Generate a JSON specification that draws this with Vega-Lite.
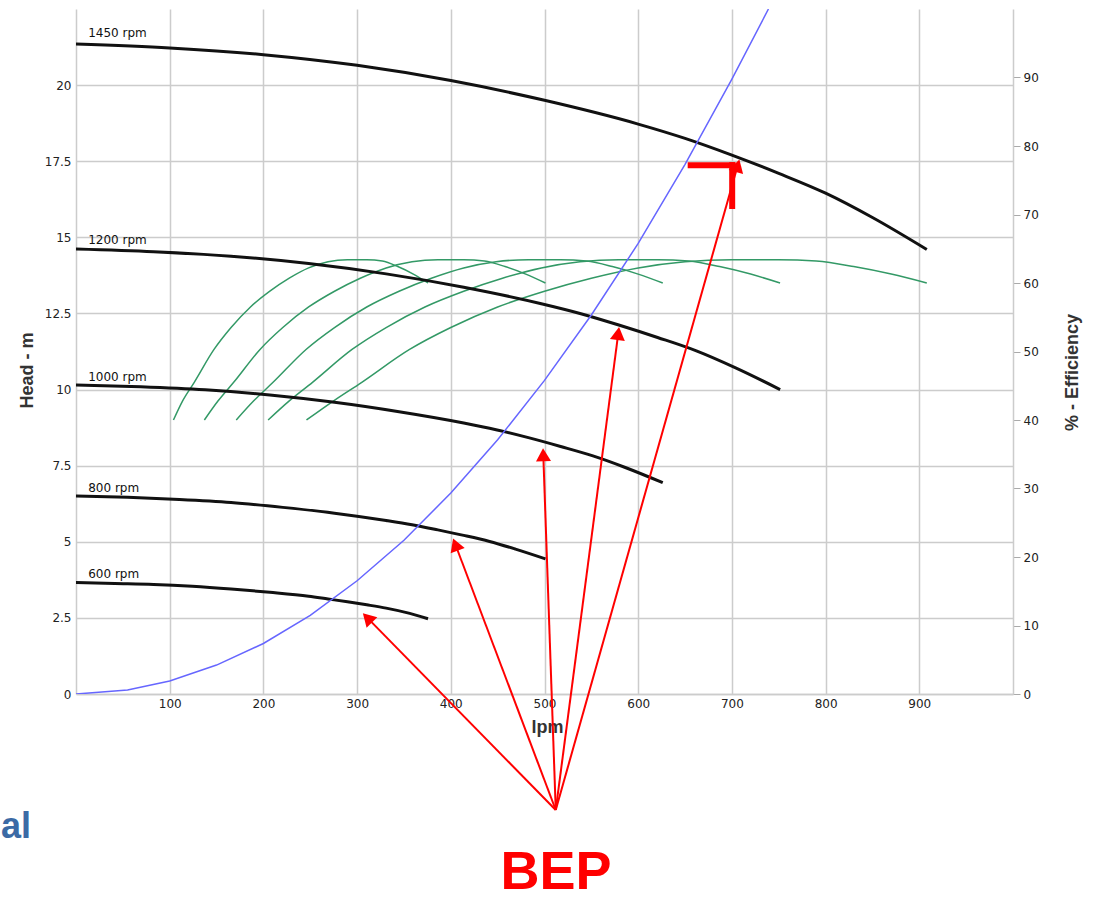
{
  "$schema": "https://vega.github.io/schema/vega-lite/v6.json",
  "width": 937,
  "height": 685,
  "autosize": {"type": "none"},
  "padding": {"left": 76, "top": 9, "right": 81, "bottom": 204},
  "background": "white",
  "config": {
    "view": {"stroke": null},
    "axis": {
      "labelFont": "DejaVu Sans",
      "labelFontSize": 12,
      "labelColor": "#222222",
      "titleFont": "Liberation Sans",
      "titleFontSize": 18,
      "titleFontWeight": "bold",
      "titleColor": "#333333",
      "gridColor": "#cccccc",
      "gridWidth": 1.5,
      "domainColor": "#cccccc",
      "domainWidth": 1.5,
      "tickColor": "#aaaaaa"
    }
  },
  "encoding": {
    "x": {
      "field": "q",
      "type": "quantitative",
      "scale": {"domain": [0, 1000], "nice": false, "zero": false},
      "axis": {
        "values": [100, 200, 300, 400, 500, 600, 700, 800, 900],
        "grid": true,
        "ticks": false,
        "domain": true,
        "labelPadding": 4,
        "title": "lpm",
        "titleX": 471,
        "titleY": 33,
        "titleBaseline": "middle",
        "titleAlign": "center"
      }
    }
  },
  "layer": [
    {
      "data": {"values": [
        {"n": 1450, "q": 246, "e": 40}, {"n": 1450, "q": 275, "e": 42.8}, {"n": 1450, "q": 305, "e": 45.5}, {"n": 1450, "q": 356, "e": 50.3}, {"n": 1450, "q": 400, "e": 53.5}, {"n": 1450, "q": 450, "e": 56.5}, {"n": 1450, "q": 500, "e": 58.8}, {"n": 1450, "q": 550, "e": 60.7}, {"n": 1450, "q": 600, "e": 62.2}, {"n": 1450, "q": 650, "e": 63.1}, {"n": 1450, "q": 700, "e": 63.4}, {"n": 1450, "q": 750, "e": 63.4}, {"n": 1450, "q": 790, "e": 63.2}, {"n": 1450, "q": 830, "e": 62.4}, {"n": 1450, "q": 870, "e": 61.3}, {"n": 1450, "q": 908, "e": 60.0},
        {"n": 1200, "q": 205, "e": 40}, {"n": 1200, "q": 227.6, "e": 42.8}, {"n": 1200, "q": 252.4, "e": 45.5}, {"n": 1200, "q": 294.6, "e": 50.3}, {"n": 1200, "q": 331, "e": 53.5}, {"n": 1200, "q": 372.4, "e": 56.5}, {"n": 1200, "q": 413.8, "e": 58.8}, {"n": 1200, "q": 455.2, "e": 60.7}, {"n": 1200, "q": 496.6, "e": 62.2}, {"n": 1200, "q": 537.9, "e": 63.1}, {"n": 1200, "q": 579.3, "e": 63.4}, {"n": 1200, "q": 620.7, "e": 63.4}, {"n": 1200, "q": 653.8, "e": 63.2}, {"n": 1200, "q": 686.9, "e": 62.4}, {"n": 1200, "q": 720, "e": 61.3}, {"n": 1200, "q": 751.4, "e": 60.0},
        {"n": 1000, "q": 171, "e": 40}, {"n": 1000, "q": 189.7, "e": 42.8}, {"n": 1000, "q": 210.3, "e": 45.5}, {"n": 1000, "q": 245.5, "e": 50.3}, {"n": 1000, "q": 275.9, "e": 53.5}, {"n": 1000, "q": 310.3, "e": 56.5}, {"n": 1000, "q": 344.8, "e": 58.8}, {"n": 1000, "q": 379.3, "e": 60.7}, {"n": 1000, "q": 413.8, "e": 62.2}, {"n": 1000, "q": 448.3, "e": 63.1}, {"n": 1000, "q": 482.8, "e": 63.4}, {"n": 1000, "q": 517.2, "e": 63.4}, {"n": 1000, "q": 544.8, "e": 63.2}, {"n": 1000, "q": 572.4, "e": 62.4}, {"n": 1000, "q": 600, "e": 61.3}, {"n": 1000, "q": 626.2, "e": 60.0},
        {"n": 800, "q": 137, "e": 40}, {"n": 800, "q": 151.7, "e": 42.8}, {"n": 800, "q": 168.3, "e": 45.5}, {"n": 800, "q": 196.4, "e": 50.3}, {"n": 800, "q": 220.7, "e": 53.5}, {"n": 800, "q": 248.3, "e": 56.5}, {"n": 800, "q": 275.9, "e": 58.8}, {"n": 800, "q": 303.4, "e": 60.7}, {"n": 800, "q": 331, "e": 62.2}, {"n": 800, "q": 358.6, "e": 63.1}, {"n": 800, "q": 386.2, "e": 63.4}, {"n": 800, "q": 413.8, "e": 63.4}, {"n": 800, "q": 435.9, "e": 63.2}, {"n": 800, "q": 457.9, "e": 62.4}, {"n": 800, "q": 480, "e": 61.3}, {"n": 800, "q": 501, "e": 60.0},
        {"n": 600, "q": 104, "e": 40}, {"n": 600, "q": 113.8, "e": 42.8}, {"n": 600, "q": 126.2, "e": 45.5}, {"n": 600, "q": 147.3, "e": 50.3}, {"n": 600, "q": 165.5, "e": 53.5}, {"n": 600, "q": 186.2, "e": 56.5}, {"n": 600, "q": 206.9, "e": 58.8}, {"n": 600, "q": 227.6, "e": 60.7}, {"n": 600, "q": 248.3, "e": 62.2}, {"n": 600, "q": 269, "e": 63.1}, {"n": 600, "q": 289.7, "e": 63.4}, {"n": 600, "q": 310.3, "e": 63.4}, {"n": 600, "q": 326.9, "e": 63.2}, {"n": 600, "q": 343.4, "e": 62.4}, {"n": 600, "q": 360, "e": 61.3}, {"n": 600, "q": 375.7, "e": 60.0}
      ]},
      "mark": {"type": "line", "color": "#339966", "strokeWidth": 1.5, "interpolate": "monotone"},
      "encoding": {
        "detail": {"field": "n", "type": "nominal"},
        "y": {
          "field": "e",
          "type": "quantitative",
          "scale": {"domain": [0, 100], "nice": false, "zero": false},
          "axis": {
            "orient": "right",
            "values": [0, 10, 20, 30, 40, 50, 60, 70, 80, 90],
            "format": "d",
            "grid": false,
            "ticks": true,
            "tickSize": 7,
            "domain": true,
            "labelPadding": 3,
            "title": "% - Efficiency",
            "titleAngle": 270,
            "titleX": 59,
            "titleY": 363,
            "titleBaseline": "middle",
            "titleAlign": "center"
          }
        }
      }
    },
    {
      "encoding": {
        "y": {
          "field": "h",
          "type": "quantitative",
          "scale": {"domain": [0, 22.5], "nice": false, "zero": false},
          "axis": {
            "orient": "left",
            "values": [0, 2.5, 5, 7.5, 10, 12.5, 15, 17.5, 20],
            "format": ".3~g",
            "grid": true,
            "ticks": false,
            "domain": true,
            "labelPadding": 5,
            "title": "Head - m",
            "titleAngle": 270,
            "titleX": -49,
            "titleY": 361,
            "titleBaseline": "middle",
            "titleAlign": "center"
          }
        }
      },
      "layer": [
        {
          "data": {"values": [
            {"rpm": 1450, "q": 0, "h": 21.35}, {"rpm": 1450, "q": 100, "h": 21.22}, {"rpm": 1450, "q": 200, "h": 21.0}, {"rpm": 1450, "q": 300, "h": 20.65}, {"rpm": 1450, "q": 400, "h": 20.15}, {"rpm": 1450, "q": 500, "h": 19.5}, {"rpm": 1450, "q": 600, "h": 18.72}, {"rpm": 1450, "q": 650, "h": 18.25}, {"rpm": 1450, "q": 700, "h": 17.7}, {"rpm": 1450, "q": 750, "h": 17.1}, {"rpm": 1450, "q": 800, "h": 16.45}, {"rpm": 1450, "q": 850, "h": 15.65}, {"rpm": 1450, "q": 908, "h": 14.6},
            {"rpm": 1200, "q": 0, "h": 14.62}, {"rpm": 1200, "q": 82.8, "h": 14.53}, {"rpm": 1200, "q": 165.5, "h": 14.38}, {"rpm": 1200, "q": 248.3, "h": 14.14}, {"rpm": 1200, "q": 331, "h": 13.8}, {"rpm": 1200, "q": 413.8, "h": 13.36}, {"rpm": 1200, "q": 496.6, "h": 12.82}, {"rpm": 1200, "q": 537.9, "h": 12.5}, {"rpm": 1200, "q": 579.3, "h": 12.12}, {"rpm": 1200, "q": 620.7, "h": 11.71}, {"rpm": 1200, "q": 662.1, "h": 11.27}, {"rpm": 1200, "q": 703.4, "h": 10.72}, {"rpm": 1200, "q": 751.5, "h": 10.0},
            {"rpm": 1000, "q": 0, "h": 10.15}, {"rpm": 1000, "q": 69, "h": 10.09}, {"rpm": 1000, "q": 137.9, "h": 9.99}, {"rpm": 1000, "q": 206.9, "h": 9.82}, {"rpm": 1000, "q": 275.9, "h": 9.58}, {"rpm": 1000, "q": 344.8, "h": 9.27}, {"rpm": 1000, "q": 413.8, "h": 8.9}, {"rpm": 1000, "q": 448.3, "h": 8.68}, {"rpm": 1000, "q": 482.8, "h": 8.42}, {"rpm": 1000, "q": 517.2, "h": 8.13}, {"rpm": 1000, "q": 551.7, "h": 7.82}, {"rpm": 1000, "q": 586.2, "h": 7.44}, {"rpm": 1000, "q": 626.2, "h": 6.94},
            {"rpm": 800, "q": 0, "h": 6.5}, {"rpm": 800, "q": 55.2, "h": 6.46}, {"rpm": 800, "q": 110.3, "h": 6.39}, {"rpm": 800, "q": 165.5, "h": 6.29}, {"rpm": 800, "q": 220.7, "h": 6.13}, {"rpm": 800, "q": 275.9, "h": 5.94}, {"rpm": 800, "q": 331, "h": 5.7}, {"rpm": 800, "q": 358.6, "h": 5.56}, {"rpm": 800, "q": 386.2, "h": 5.39}, {"rpm": 800, "q": 413.8, "h": 5.21}, {"rpm": 800, "q": 441.4, "h": 5.01}, {"rpm": 800, "q": 469, "h": 4.76}, {"rpm": 800, "q": 501, "h": 4.44},
            {"rpm": 600, "q": 0, "h": 3.66}, {"rpm": 600, "q": 41.4, "h": 3.63}, {"rpm": 600, "q": 82.8, "h": 3.6}, {"rpm": 600, "q": 124.1, "h": 3.54}, {"rpm": 600, "q": 165.5, "h": 3.45}, {"rpm": 600, "q": 206.9, "h": 3.34}, {"rpm": 600, "q": 248.3, "h": 3.21}, {"rpm": 600, "q": 269, "h": 3.12}, {"rpm": 600, "q": 289.7, "h": 3.03}, {"rpm": 600, "q": 310.3, "h": 2.93}, {"rpm": 600, "q": 331, "h": 2.82}, {"rpm": 600, "q": 351.7, "h": 2.68}, {"rpm": 600, "q": 375.7, "h": 2.47}
          ]},
          "mark": {"type": "line", "color": "#111111", "strokeWidth": 3, "interpolate": "monotone"},
          "encoding": {"detail": {"field": "rpm", "type": "nominal"}}
        },
        {
          "data": {"values": [
            {"q": 0, "h": 0}, {"q": 55, "h": 0.13}, {"q": 100, "h": 0.43}, {"q": 150, "h": 0.95}, {"q": 200, "h": 1.66}, {"q": 250, "h": 2.58}, {"q": 300, "h": 3.72}, {"q": 350, "h": 5.05}, {"q": 400, "h": 6.6}, {"q": 450, "h": 8.35}, {"q": 500, "h": 10.3}, {"q": 550, "h": 12.45}, {"q": 600, "h": 14.8}, {"q": 650, "h": 17.4}, {"q": 700, "h": 20.2}, {"q": 739, "h": 22.5}
          ]},
          "mark": {"type": "line", "color": "#6666ff", "strokeWidth": 1.5, "clip": true}
        },
        {
          "data": {"values": [
            {"q": 13, "h": 21.7, "label": "1450 rpm"},
            {"q": 13, "h": 14.91, "label": "1200 rpm"},
            {"q": 13, "h": 10.41, "label": "1000 rpm"},
            {"q": 13, "h": 6.77, "label": "800 rpm"},
            {"q": 13, "h": 3.94, "label": "600 rpm"}
          ]},
          "mark": {"type": "text", "font": "DejaVu Sans", "fontSize": 12, "color": "#111111", "align": "left", "baseline": "middle"},
          "encoding": {"text": {"field": "label"}}
        },
        {
          "data": {"values": [
            {"q": 652.8, "h": 17.37, "q2": 704, "h2": 17.37},
            {"q": 700.3, "h": 17.47, "q2": 700.3, "h2": 15.93}
          ]},
          "mark": {"type": "rule", "color": "#ff0000", "strokeWidth": 6, "strokeCap": "butt", "clip": false},
          "encoding": {"x2": {"field": "q2"}, "y2": {"field": "h2"}}
        },
        {
          "data": {"values": [
            {"q0": 512, "h0": -3.81, "q": 311, "h": 2.5},
            {"q0": 512, "h0": -3.81, "q": 404.9, "h": 4.91},
            {"q0": 512, "h0": -3.81, "q": 498.7, "h": 7.86},
            {"q0": 512, "h0": -3.81, "q": 578.7, "h": 11.84},
            {"q0": 512, "h0": -3.81, "q": 706.1, "h": 17.35}
          ]},
          "mark": {"type": "rule", "color": "#ff0000", "strokeWidth": 2, "clip": false},
          "encoding": {"x2": {"field": "q0"}, "y2": {"field": "h0"}}
        },
        {
          "data": {"values": [
            {"q0": 512, "h0": -3.81, "q": 311, "h": 2.5},
            {"q0": 512, "h0": -3.81, "q": 404.9, "h": 4.91},
            {"q0": 512, "h0": -3.81, "q": 498.7, "h": 7.86},
            {"q0": 512, "h0": -3.81, "q": 578.7, "h": 11.84},
            {"q0": 512, "h0": -3.81, "q": 706.1, "h": 17.35}
          ]},
          "transform": [
            {"calculate": "atan2((datum.q - datum.q0) * 0.937, (datum.h - datum.h0) * 30.44) * 180 / PI", "as": "ang"}
          ],
          "mark": {"type": "point", "shape": "triangle-up", "filled": true, "color": "#ff0000", "opacity": 1, "size": 225, "clip": false},
          "encoding": {"angle": {"field": "ang", "type": "quantitative", "scale": null}}
        },
        {
          "data": {"values": [{"q": 512.3, "h": -6.4, "label": "BEP"}]},
          "mark": {"type": "text", "font": "Liberation Sans", "fontWeight": "bold", "fontSize": 54, "color": "#ff0000", "align": "center", "baseline": "alphabetic", "clip": false},
          "encoding": {"text": {"field": "label"}}
        },
        {
          "data": {"values": [{"q": -80, "h": -4.73, "label": "al"}]},
          "mark": {"type": "text", "font": "Liberation Sans", "fontWeight": "bold", "fontSize": 36, "color": "#3b6aa5", "align": "left", "baseline": "alphabetic", "clip": false},
          "encoding": {"text": {"field": "label"}}
        }
      ]
    }
  ],
  "resolve": {"scale": {"y": "independent"}}
}
